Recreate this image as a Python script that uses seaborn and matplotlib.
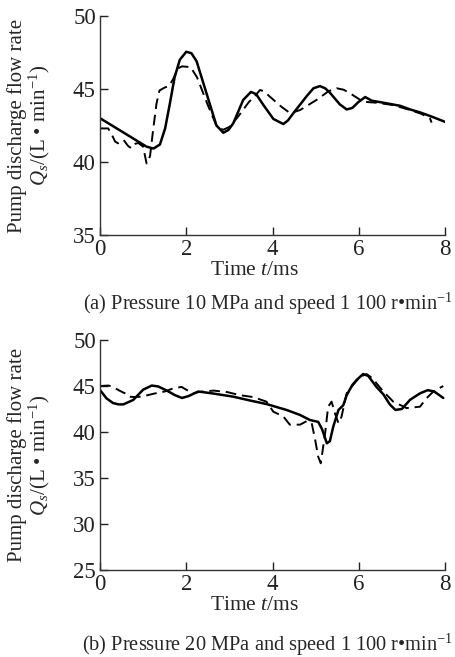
import numpy as np
import pandas as pd
import matplotlib
matplotlib.use("Agg")
import matplotlib.pyplot as plt
import seaborn as sns

# (a) 10 MPa, solid = one curve, dashed = the other
t_a_solid = [0.0, 0.5, 1.08, 1.24, 1.39, 1.51, 1.62, 1.73, 1.85, 2.0, 2.12, 2.24, 2.47, 2.7,
             2.86, 2.98, 3.09, 3.32, 3.5, 3.62, 3.79, 4.02, 4.25, 4.36, 4.48, 4.79, 4.95,
             5.1, 5.22, 5.33, 5.56, 5.72, 5.85, 5.99, 6.15, 6.3, 6.57, 6.96, 7.19, 7.42, 7.7, 8.0]
q_a_solid = [43.0, 42.1, 41.05, 40.92, 41.2, 42.3, 44.0, 45.8, 47.0, 47.55, 47.45, 46.9, 44.7, 42.5,
             42.0, 42.2, 42.65, 44.25, 44.8, 44.65, 43.9, 42.95, 42.6, 42.85, 43.33, 44.5, 45.05,
             45.2, 45.05, 44.75, 43.95, 43.6, 43.7, 44.1, 44.45, 44.2, 44.06, 43.85, 43.6, 43.4, 43.1, 42.75]

t_a_dash = [0.0, 0.19, 0.27, 0.35, 0.42, 0.55, 0.65, 0.73, 0.82, 0.89, 1.0, 1.08, 1.16, 1.24,
            1.31, 1.38, 1.5, 1.6, 1.7, 1.8, 1.9, 2.1, 2.25, 2.5, 2.7, 2.85, 3.0, 3.2, 3.45, 3.6,
            3.71, 3.8, 3.94, 4.2, 4.41, 4.64, 5.02, 5.3, 5.49, 5.65, 5.8, 6.1, 6.41, 6.8, 7.2,
            7.45, 7.65, 7.69]
q_a_dash = [42.3, 42.3, 41.9, 41.4, 41.28, 41.5, 41.1, 40.94, 41.25, 41.3, 41.05, 39.9, 40.4, 42.4,
            44.0, 44.9, 45.1, 45.2, 45.7, 46.4, 46.55, 46.5, 45.8, 43.9, 42.5, 42.2, 42.4, 43.1, 44.1, 44.55,
            44.93, 44.85, 44.47, 43.8, 43.34, 43.56, 44.25, 44.85, 45.05, 44.95, 44.7, 44.13, 44.06, 43.9, 43.55,
            43.3, 43.0, 42.7]

# (b) 20 MPa
t_b_solid = [0.0, 0.15, 0.3, 0.43, 0.54, 0.77, 1.0, 1.2, 1.35, 1.55, 1.74, 1.9, 2.05, 2.28, 2.6,
             3.09, 3.5, 3.86, 4.33, 4.64, 4.87, 5.06, 5.15, 5.26, 5.33, 5.41, 5.53, 5.64, 5.72,
             5.85, 5.95, 6.1, 6.22, 6.41, 6.57, 6.72, 6.85, 7.0, 7.19, 7.42, 7.6, 7.75, 7.96]
q_b_solid = [44.57, 43.66, 43.15, 43.0, 43.0, 43.48, 44.6, 45.05, 44.95, 44.5, 44.0, 43.7, 43.9, 44.4, 44.2,
             43.84, 43.4, 43.04, 42.39, 41.85, 41.3, 41.1, 40.3, 38.77, 39.0, 40.6, 42.4, 42.9, 44.0,
             45.1, 45.65, 46.3, 46.1, 44.9, 44.1, 43.0, 42.4, 42.5, 43.5, 44.2, 44.55, 44.4, 43.7]

t_b_dash = [0.0, 0.2, 0.3, 0.45, 0.58, 0.66, 0.8, 0.97, 1.1, 1.28, 1.5, 1.7, 1.89, 2.0, 2.15, 2.3,
            2.63, 2.94, 3.25, 3.55, 3.86, 4.02, 4.25, 4.4, 4.64, 4.8, 4.91, 4.99, 5.06, 5.12, 5.22,
            5.29, 5.37, 5.45, 5.53, 5.6, 5.72, 5.8, 6.03, 6.18, 6.3, 6.41, 6.57, 6.8, 7.11, 7.42,
            7.57, 7.73, 7.96]
q_b_dash = [45.0, 45.05, 44.9, 44.5, 44.2, 43.84, 43.8, 43.84, 44.0, 44.2, 44.4, 44.75, 44.9, 44.6, 44.2, 44.35,
            44.5, 44.35, 44.0, 43.8, 43.3, 42.2, 41.7, 40.8, 40.8, 41.2, 40.95, 39.13, 37.3, 36.6, 39.86,
            42.75, 43.3, 42.0, 40.95, 41.66, 44.2, 44.75, 46.0, 46.3, 45.9, 45.3, 44.4, 43.3, 42.6, 42.75,
            43.66, 44.4, 45.0]

x_ticks = [0, 2, 4, 6, 8]
y_ticks_a = [35, 40, 45, 50]
y_ticks_b = [25, 30, 35, 40, 45, 50]

ylabel = "Pump discharge flow rate\n$Q_s$/(L \u2022 min$^{-1}$)"
xlabel = "Time $t$/ms"
captions = ["(a) Pressure 10 MPa and speed 1 100 r\u2022min$^{-1}$",
            "(b) Pressure 20 MPa and speed 1 100 r\u2022min$^{-1}$"]

sns.set_theme(style="ticks")
plt.rcParams["font.family"] = ["Liberation Serif", "DejaVu Serif"]
plt.rcParams["mathtext.fontset"] = "custom"
plt.rcParams["mathtext.rm"] = "Liberation Serif"
plt.rcParams["mathtext.it"] = "Liberation Serif:italic"

fig = plt.figure(figsize=(4.55, 6.57), dpi=100)
ax_a = fig.add_axes([100 / 455, 1 - 235 / 657, 345 / 455, 219 / 657])
ax_b = fig.add_axes([100 / 455, 1 - 570 / 657, 345 / 455, 230 / 657])


def draw(ax, ts, qs, td, qd, yticks, ylim):
    sns.lineplot(x=ts, y=qs, ax=ax, color="black", lw=1.8, estimator=None, sort=False)
    sns.lineplot(x=td, y=qd, ax=ax, color="black", lw=1.4, estimator=None, sort=False,
                 linestyle=(0, (5.5, 3)))
    ax.set_xlim(0, 8)
    ax.set_ylim(*ylim)
    ax.set_xticks(x_ticks)
    ax.set_yticks(yticks)
    sns.despine(ax=ax)
    for s in ["left", "bottom"]:
        ax.spines[s].set_linewidth(1.0)
        ax.spines[s].set_color("#333333")
    ax.tick_params(direction="in", length=6, width=1.0, labelsize=16.5, colors="#222222", pad=3)
    ax.set_ylabel(ylabel, fontsize=15, linespacing=1.0)
    ax.yaxis.set_label_coords(-0.138, 0.5)
    ax.set_xlabel(xlabel, fontsize=15.5)


draw(ax_a, t_a_solid, q_a_solid, t_a_dash, q_a_dash, y_ticks_a, (35, 50))
ax_a.xaxis.set_label_coords(0.449, -0.12)
draw(ax_b, t_b_solid, q_b_solid, t_b_dash, q_b_dash, y_ticks_b, (25, 50))
ax_b.xaxis.set_label_coords(0.449, -0.113)

fig.text(0.588, 1 - 304 / 657, captions[0], ha="center", va="center", fontsize=14.7)
fig.text(0.588, 1 - 645 / 657, captions[1], ha="center", va="center", fontsize=14.7)

fig.savefig("out.png", dpi=100, facecolor="white")
